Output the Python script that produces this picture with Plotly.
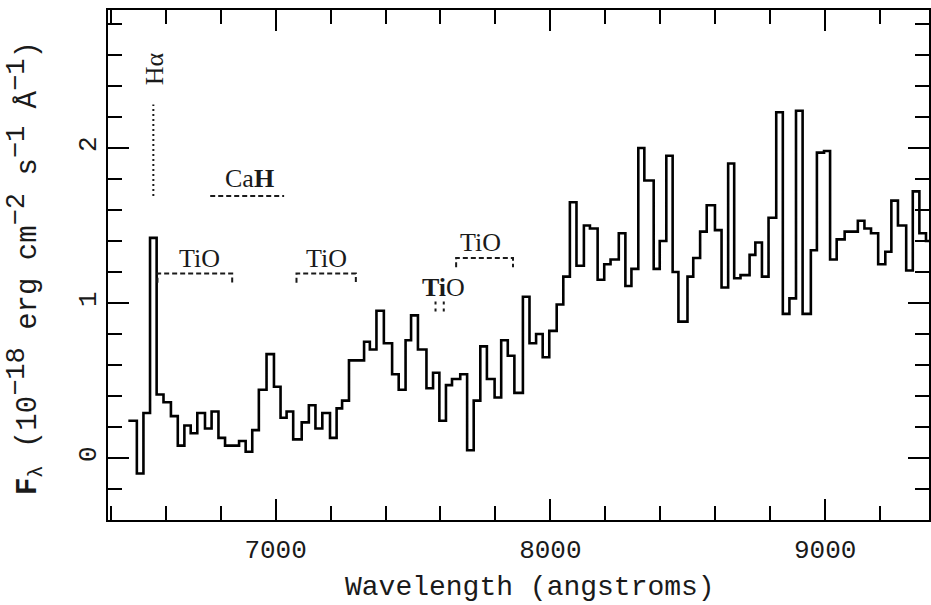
import plotly.graph_objects as go

# ---- spectrum: left edge of each step (Angstrom) and flux (1e-18 erg/cm2/s/A)
step_wave = [6464, 6495, 6519, 6543, 6567, 6592, 6619, 6644, 6668, 6691,
             6715, 6743, 6767, 6792, 6816, 6867, 6891, 6915, 6939, 6967,
             6994, 7018, 7040, 7064, 7095, 7121, 7145, 7170, 7198, 7222,
             7242, 7267, 7322, 7343, 7367, 7394, 7424, 7448, 7473, 7493,
             7518, 7549, 7573, 7596, 7620, 7642, 7672, 7697, 7721, 7745,
             7769, 7797, 7821, 7845, 7869, 7900, 7924, 7948, 7972, 7996,
             8023, 8047, 8071, 8095, 8122, 8144, 8172, 8196, 8219, 8249,
             8273, 8295, 8320, 8342, 8376, 8398, 8422, 8445, 8466, 8499,
             8520, 8545, 8569, 8599, 8623, 8647, 8669, 8692, 8725, 8746,
             8770, 8794, 8822, 8846, 8870, 8894, 8918, 8948, 8970, 8996,
             9018, 9042, 9071, 9119, 9143, 9167, 9193, 9219, 9241, 9265,
             9295, 9319, 9343, 9367]
step_flux = [0.24, -0.10, 0.29, 1.42, 0.41, 0.36, 0.27, 0.08, 0.21, 0.16,
             0.29, 0.19, 0.30, 0.13, 0.08, 0.11, 0.04, 0.18, 0.44, 0.67,
             0.46, 0.26, 0.30, 0.12, 0.23, 0.34, 0.19, 0.29, 0.13, 0.32,
             0.37, 0.63, 0.75, 0.70, 0.95, 0.74, 0.54, 0.44, 0.76, 0.92,
             0.70, 0.45, 0.55, 0.24, 0.47, 0.51, 0.54, 0.05, 0.37, 0.72,
             0.51, 0.39, 0.76, 0.66, 0.42, 1.04, 0.74, 0.80, 0.65, 0.82,
             0.99, 1.17, 1.65, 1.24, 1.50, 1.48, 1.15, 1.25, 1.28, 1.45,
             1.11, 1.22, 2.00, 1.79, 1.22, 1.40, 1.95, 1.20, 0.88, 1.17,
             1.29, 1.46, 1.63, 1.47, 1.10, 1.90, 1.16, 1.18, 1.31, 1.39,
             1.17, 1.55, 2.23, 0.93, 1.03, 2.24, 0.93, 1.34, 1.97, 1.98,
             1.28, 1.41, 1.46, 1.53, 1.48, 1.45, 1.25, 1.33, 1.66, 1.50,
             1.21, 1.72, 1.45, 1.40]
last_edge = 9420

# ---- axis ticks
x_major = [7000, 8000, 9000]
x_major_text = ["7000", "8000", "9000"]
y_major = [0, 1, 2]
y_major_text = ["0", "1", "2"]

# ---- line identifications
halpha_wave = 6555
halpha_range = [1.69, 2.28]
halpha_label = "Hα"
halpha_label_pos = [6559, 2.51]

cah_range = [6762, 7031]
cah_level = 1.69
cah_label = "Ca<b>H</b>"
cah_label_pos = [6904, 1.80]

tio_start = [6570, 7076, 7657]
tio_end = [6842, 7292, 7864]
tio_level = [1.19, 1.19, 1.29]
tio_label = ["TiO", "TiO", "TiO"]
tio_label_pos_x = [6722, 7185, 7745]
tio_label_pos_y = [1.29, 1.29, 1.39]

tio_small_edges = [7582, 7612]
tio_small_range = [0.93, 1.01]
tio_small_label = "<b>Ti</b>O"
tio_small_label_pos = [7612, 1.10]

SUP = "<sup><span style='font-size:27px'>{}</span></sup>"
x_title = "Wavelength (angstroms)"
y_title = ("<b>F</b><sub>λ</sub> (10" + SUP.format("−18") +
           " erg cm" + SUP.format("−2") +
           " s" + SUP.format("−1") +
           " Å" + SUP.format("−1") + ")")

MONO = "Liberation Mono"
SERIF = "Liberation Serif"
INK = "#1a1a1a"

fig = go.Figure()

fig.add_trace(go.Scatter(
    x=step_wave + [last_edge], y=step_flux + [step_flux[-1]],
    mode="lines", line=dict(color="black", width=2.6, shape="hv"),
    showlegend=False, hoverinfo="skip"))

dot = "2px,3px"
dash = "5px,3px"

# H-alpha marker
fig.add_trace(go.Scatter(x=[halpha_wave, halpha_wave], y=halpha_range, mode="lines",
                         line=dict(color=INK, width=2, dash=dot), showlegend=False))
# CaH band
fig.add_trace(go.Scatter(x=cah_range, y=[cah_level, cah_level], mode="lines",
                         line=dict(color=INK, width=2, dash=dash), showlegend=False))
# TiO bands (brackets)
tick_drop = 0.06
for a, b, lev in zip(tio_start, tio_end, tio_level):
    fig.add_trace(go.Scatter(x=[a, a, b, b], y=[lev - tick_drop, lev, lev, lev - tick_drop],
                             mode="lines", line=dict(color=INK, width=2, dash=dash),
                             showlegend=False))
# small TiO bandhead
fig.add_trace(go.Scatter(
    x=[tio_small_edges[0], tio_small_edges[0], None, tio_small_edges[1], tio_small_edges[1]],
    y=[tio_small_range[1], tio_small_range[0], None, tio_small_range[1], tio_small_range[0]],
    mode="lines", line=dict(color=INK, width=2, dash="3px,4px"), showlegend=False))

ann_font = dict(family=SERIF, size=26, color=INK)
annotations = [
    dict(x=halpha_label_pos[0], y=halpha_label_pos[1], text=halpha_label, textangle=-90,
         showarrow=False, font=ann_font),
    dict(x=cah_label_pos[0], y=cah_label_pos[1], text=cah_label, showarrow=False, font=ann_font),
    dict(x=tio_small_label_pos[0], y=tio_small_label_pos[1], text=tio_small_label,
         showarrow=False, font=ann_font),
]
for lx, ly, lt in zip(tio_label_pos_x, tio_label_pos_y, tio_label):
    annotations.append(dict(x=lx, y=ly, text=lt, showarrow=False, font=ann_font))

# axis titles
annotations.append(dict(xref="paper", yref="paper", x=0.514, y=0, yshift=-67,
                        text=x_title, showarrow=False, yanchor="middle",
                        font=dict(family=MONO, size=28, color=INK)))
annotations.append(dict(xref="paper", yref="paper", x=0, y=0.494, xshift=-83,
                        text=y_title, showarrow=False, textangle=-90, xanchor="center",
                        font=dict(family=MONO, size=29, color=INK)))

axis_common = dict(showline=True, linewidth=2, linecolor="black", mirror="ticks",
                   ticks="inside", tickwidth=2, tickcolor="black",
                   showgrid=False, zeroline=False,
                   tickfont=dict(family=MONO, size=26, color=INK))

fig.update_layout(
    width=931, height=605,
    margin=dict(l=108, r=0, t=10, b=85),
    paper_bgcolor="white", plot_bgcolor="white",
    xaxis=dict(range=[6390, 9378], tickmode="array", tickvals=x_major, ticktext=x_major_text,
               ticklen=21, ticklabelstandoff=5,
               minor=dict(dtick=200, tick0=0, ticks="inside", ticklen=14, tickwidth=2,
                          tickcolor="black", showgrid=False),
               **axis_common),
    yaxis=dict(range=[-0.4, 2.89], tickmode="array", tickvals=y_major, ticktext=y_major_text,
               ticklen=21, tickangle=-90, ticklabelstandoff=0,
               minor=dict(dtick=0.2, tick0=0, ticks="inside", ticklen=14, tickwidth=2,
                          tickcolor="black", showgrid=False),
               **axis_common),
    annotations=annotations,
    showlegend=False,
)

fig.write_html("out.html")
